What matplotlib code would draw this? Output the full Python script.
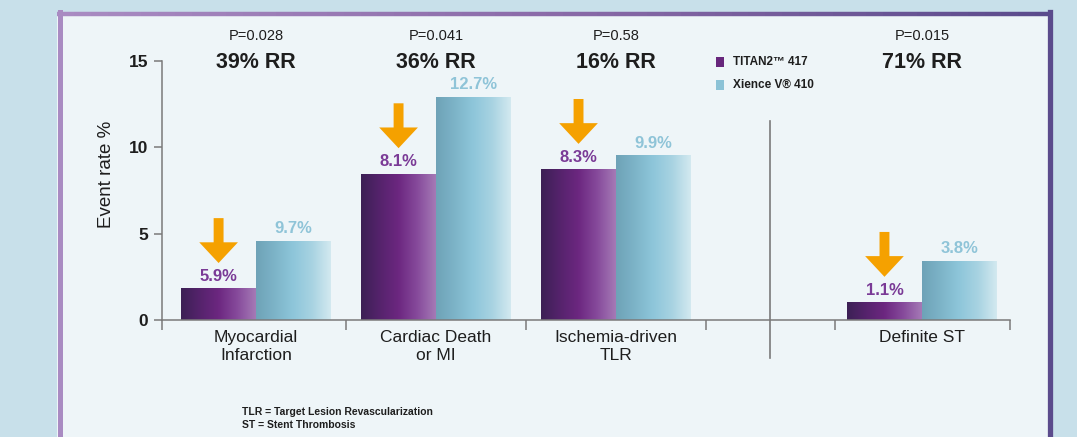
import numpy as np
import matplotlib
matplotlib.use("Agg")
import matplotlib.pyplot as plt
from matplotlib.colors import LinearSegmentedColormap
from matplotlib.patches import Rectangle, FancyArrow
from matplotlib.lines import Line2D

plt.rcParams['font.family'] = ['Liberation Sans', 'DejaVu Sans']

# --- data ---
categories = ["Myocardial\nInfarction", "Cardiac Death\nor MI", "Ischemia-driven\nTLR", "Definite ST"]
group_x = [0, 1, 2, 3.7]
titan_height = [1.8, 8.45, 8.7, 1.0]      # bar heights as drawn
xience_height = [4.57, 12.9, 9.5, 3.4]
titan_label = ["5.9%", "8.1%", "8.3%", "1.1%"]
xience_label = ["9.7%", "12.7%", "9.9%", "3.8%"]
p_values = ["P=0.028", "P=0.041", "P=0.58", "P=0.015"]
rr_text = ["39% RR", "36% RR", "16% RR", "71% RR"]
series_names = ["TITAN2\u2122 417", "Xience V\u00ae 410"]
yticks = [0, 5, 10, 15]
footnotes = ["TLR = Target Lesion Revascularization", "ST = Stent Thrombosis"]

# --- colours ---
outer_bg = "#c8e0ea"
panel_bg = "#eef5f8"
purple_txt = "#7a3a96"
blue_txt = "#8fc4d8"
arrow_col = "#f5a100"
axis_col = "#7a7a7a"
text_col = "#1e1e1e"
titan_cmap = LinearSegmentedColormap.from_list(
    "titan", ["#3c2055", "#55236c", "#6c2780", "#864a9b", "#a57ab6"])
xience_cmap = LinearSegmentedColormap.from_list(
    "xience", ["#6ea2b7", "#7db4c8", "#8ec6da", "#a8d3e2", "#d3e9f0"])

fig = plt.figure(figsize=(10.77, 4.37), dpi=100, facecolor=outer_bg)

# panel with purple frame
W, H = 1077.0, 437.0
fig.patches.append(Rectangle((57 / W, 0), (1050 - 57) / W, 1 - 12 / H,
                             transform=fig.transFigure, facecolor=panel_bg,
                             edgecolor="none", zorder=-5))
fig.add_artist(Line2D([59.5 / W, 59.5 / W], [0, 1 - 12 / H], color="#a98bc2",
                      lw=3.6, transform=fig.transFigure, zorder=-4))
top_cmap = LinearSegmentedColormap.from_list("top", ["#a98bc2", "#8a6aa8", "#5b4b8c"])
xs = np.linspace(57, 1052, 60)
for i in range(len(xs) - 1):
    fig.add_artist(Line2D([xs[i] / W, xs[i + 1] / W], [1 - 13.5 / H, 1 - 13.5 / H],
                          color=top_cmap(i / (len(xs) - 2)), lw=3.2,
                          solid_capstyle="butt", transform=fig.transFigure, zorder=-4))
fig.add_artist(Line2D([1049.5 / W, 1049.5 / W], [0, 1 - 12 / H], color="#5b4b8c",
                      lw=3.8, transform=fig.transFigure, zorder=-4))

ax = fig.add_axes([162 / W, 1 - 320 / H, (1010 - 162) / W, (320 - 61) / H])
ax.set_zorder(2)
ax.set_facecolor("none")

bw = 0.415
grad = np.linspace(0, 1, 256).reshape(1, -1)
titan_x = [g - bw / 2 for g in group_x]
xience_x = [g + bw / 2 for g in group_x]
bars_t = ax.bar(titan_x, titan_height, width=bw, color="none", zorder=3)
bars_x = ax.bar(xience_x, xience_height, width=bw, color="none", zorder=3)

for bars, cmap in [(bars_t, titan_cmap), (bars_x, xience_cmap)]:
    for r in bars:
        x0, w, h = r.get_x(), r.get_width(), r.get_height()
        ax.imshow(grad, extent=[x0, x0 + w, 0, h], aspect="auto", cmap=cmap,
                  zorder=2, interpolation="bilinear")

# value labels and arrows
for xt, ht, lt in zip(titan_x, titan_height, titan_label):
    ax.text(xt, ht + 0.72, lt, ha="center", va="center", color=purple_txt,
            fontsize=12, fontweight="bold")
    tip = ht + 1.5
    ax.add_patch(FancyArrow(xt, tip + 2.6, 0, -2.6, width=0.055, head_width=0.215,
                            head_length=1.2, length_includes_head=True,
                            color=arrow_col, lw=0, zorder=4))
for xx, hx, lx in zip(xience_x, xience_height, xience_label):
    ax.text(xx, hx + 0.72, lx, ha="center", va="center", color=blue_txt,
            fontsize=12, fontweight="bold")

# headers
for g, p, rr in zip(group_x, p_values, rr_text):
    ax.text(g, 16.45, p, ha="center", va="center", fontsize=10.5, color=text_col,
            clip_on=False)
    ax.text(g, 14.93, rr, ha="center", va="center", fontsize=15.5,
            fontweight="bold", color=text_col, clip_on=False)

# category labels
for g, c in zip(group_x, categories):
    ax.text(g, -0.04, c, transform=ax.get_xaxis_transform(), ha="center",
            va="top", fontsize=12.5, color=text_col, linespacing=1.2)

# separator line
ax.plot([2.856, 2.856], [-2.2, 11.5], color=axis_col, lw=1.2, clip_on=False)

# legend
leg_x = 2.556
for yy, cmap, name in [(14.94, titan_cmap, series_names[0]),
                       (13.6, xience_cmap, series_names[1])]:
    ax.add_patch(Rectangle((leg_x, yy - 0.3), 0.045, 0.6, facecolor=cmap(0.45),
                           edgecolor="none", clip_on=False))
    ax.text(leg_x + 0.095, yy, name, ha="left", va="center", fontsize=8.5,
            fontweight="bold", color=text_col,
            family=["Liberation Sans Narrow", "Liberation Sans", "DejaVu Sans"])

# axes styling
ax.set_xlim(-0.522, 4.19)
ax.set_ylim(0, 15)
ax.set_yticks(yticks)
ax.set_xticks([-0.522, 0.5, 1.5, 2.5, 3.217, 4.19])
ax.set_xticklabels([])
ax.tick_params(axis="x", direction="out", length=7.5, width=1.1, color=axis_col)
ax.tick_params(axis="y", direction="out", length=6, width=1.1, color=axis_col,
               labelsize=12.5, labelcolor=text_col, pad=4)
for lbl in ax.get_yticklabels():
    lbl.set_fontweight("bold")
for s in ["top", "right"]:
    ax.spines[s].set_visible(False)
for s in ["left", "bottom"]:
    ax.spines[s].set_color(axis_col)
    ax.spines[s].set_linewidth(1.1)
ax.set_ylabel("Event rate %", fontsize=13.5, color=text_col)
ax.yaxis.set_label_coords(-0.056, 0.564)

for i, t in enumerate(footnotes):
    fig.text(242 / W, 1 - (412 + 13 * i) / H, t, ha="left", va="center",
             fontsize=7.5, fontweight="bold", color=text_col,
             family=["Liberation Sans Narrow", "Liberation Sans", "DejaVu Sans"])

fig.savefig("out.png", dpi=100, facecolor=outer_bg)
